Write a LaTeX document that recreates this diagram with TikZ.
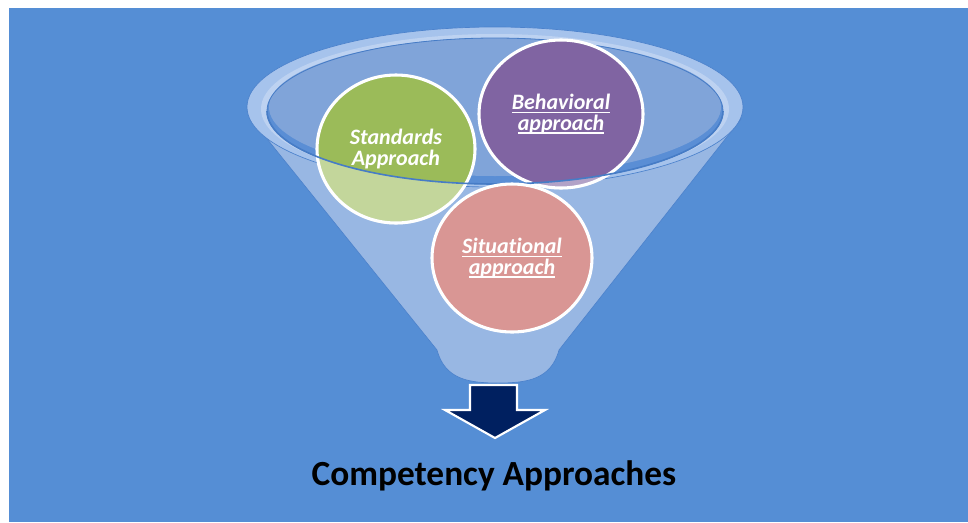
\documentclass[tikz,border=0pt]{standalone}
\usepackage{fontspec}
\setmainfont{Carlito}[Ligatures={NoCommon,NoContextual}]
\usetikzlibrary{shapes.geometric}

\definecolor{bgblue}{HTML}{558ED5}
\definecolor{funnelbody}{HTML}{98B7E3}
\definecolor{funnelrim}{HTML}{A6C3EC}
\definecolor{rimlight}{HTML}{BDD2F1}
\definecolor{rimshade}{HTML}{4C82CC}
\definecolor{mouthdark}{HTML}{5A8ED5}
\definecolor{mouth}{HTML}{80A4D9}
\definecolor{mouthedge}{HTML}{467CC6}
\definecolor{greenball}{HTML}{9BBB59}
\definecolor{purpleball}{HTML}{8064A2}
\definecolor{pinkball}{HTML}{D99694}
\definecolor{navy}{HTML}{002060}

% underlined hyperlink-style text
\newcommand\lnk[1]{\setbox0\hbox{#1}\rlap{\rule[-2.6pt]{\wd0}{1.1pt}}\box0}

\begin{document}
\begin{tikzpicture}[x=0.75pt,y=-0.75pt,
  ball/.style={ellipse,draw=white,line width=2.3pt,inner sep=0pt,text=white,
    font=\fontsize{16.5}{15.5}\selectfont\bfseries\itshape,align=center},
  title/.style={font=\fontsize{26.5}{30}\selectfont\bfseries,text=black,anchor=base}]

\fill[white] (0,0) rectangle (968,522);
\useasboundingbox (0,0) rectangle (968,522);
\fill[bgblue] (9,8) rectangle (968,522);

% funnel body
\path[fill=funnelbody,draw=rimshade,line width=0.5pt] (251,119) -- (437,350)
  .. controls (445,380) and (470,383) .. (498,383)
  .. controls (526,383) and (551,380) .. (559,350)
  -- (741,119) -- cycle;

% rim and mouth
\path[fill=funnelrim,draw=rimshade,line width=0.5pt] (495,107) ellipse[x radius=248,y radius=80];
\fill[rimlight] (495,109) ellipse[x radius=234,y radius=75];
\fill[mouthdark] (495,111) ellipse[x radius=228,y radius=73];
\fill[mouth] (495,107) ellipse[x radius=226,y radius=69];
\draw[mouthedge,line width=0.6pt] (495,111) ellipse[x radius=228,y radius=73];

% balls inside the funnel
\node[ball,fill=greenball,minimum width=118.5pt,minimum height=111pt] (std) at (396,149) {Standards\\Approach};
\node[ball,fill=purpleball,minimum width=123pt,minimum height=111pt] (beh) at (561,114) {\lnk{Behavioral}\\\lnk{approach}};

% front wall of the funnel seen over the balls
\begin{scope}
  \clip (0,111) -- (267,111) arc[start angle=180,end angle=0,x radius=228,y radius=73]
        -- (968,111) -- (968,522) -- (0,522) -- cycle;
  \fill[white,opacity=.4] (std.center) ellipse[x radius=80.5,y radius=75.5];
  \fill[white,opacity=.4] (beh.center) ellipse[x radius=83.5,y radius=75.5];
\end{scope}
\begin{scope}
  \clip (0,111) rectangle (968,522);
  \draw[mouthedge,line width=1.2pt] (495,111) ellipse[x radius=228,y radius=73];
\end{scope}

\node[ball,fill=pinkball,minimum width=120pt,minimum height=111pt] (sit) at (512,258) {\lnk{Situational}\\\lnk{approach}};

% output arrow
\draw[white,line width=1.6pt,fill=navy,line join=miter]
  (470,385) -- (517,385) -- (517,410) -- (545,410) -- (495,438)
  -- (445,410) -- (470,410) -- cycle;

\node[title] (label) at (494,485) {Competency Approaches};
\end{tikzpicture}
\end{document}
